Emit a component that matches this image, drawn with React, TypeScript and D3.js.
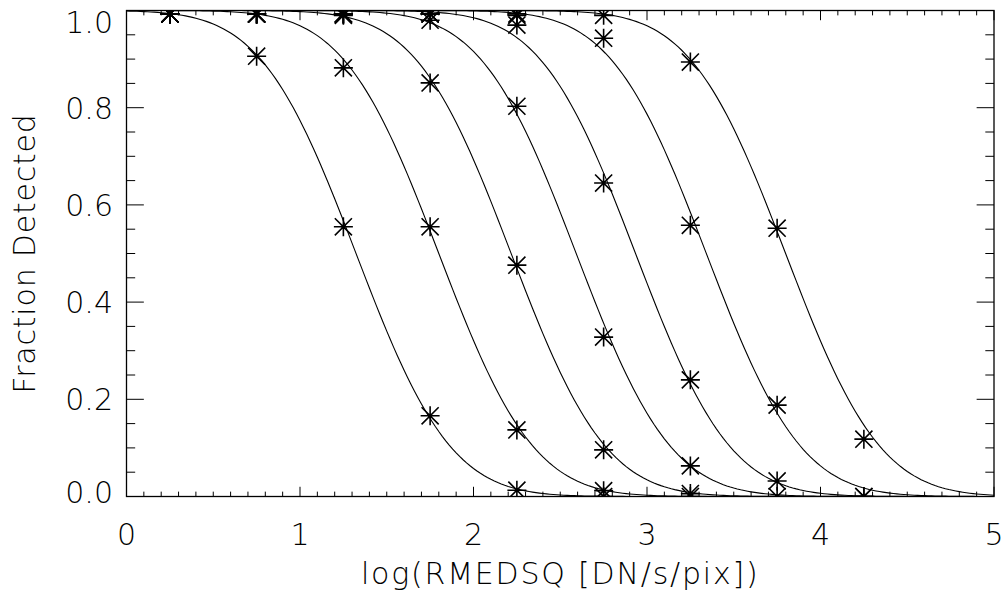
import React from "react";
import * as d3 from "d3";

// ---- data ----
const bins = [0.25, 0.75, 1.25, 1.75, 2.25, 2.75, 3.25, 3.75, 4.25];
const det1 = [0.993, 0.906, 0.555, 0.166, 0.013, 0.0];
const det2 = [0.993, 0.993, 0.882, 0.555, 0.137, 0.012, 0.0];
const det3 = [0.993, 0.993, 0.99, 0.851, 0.476, 0.096, 0.006];
const det4 = [0.993, 0.993, 0.993, 0.98, 0.803, 0.328, 0.063, 0.0];
const det5 = [0.993, 0.993, 0.993, 0.993, 0.97, 0.645, 0.24, 0.032, 0.0];
const det6 = [0.993, 0.993, 0.993, 0.993, 0.99, 0.943, 0.558, 0.188, 0.0];
const det7 = [0.993, 0.993, 0.993, 0.993, 0.993, 0.99, 0.894, 0.552, 0.118];
const series = [det1, det2, det3, det4, det5, det6, det7];

// fitted completeness curves: 50% point and gaussian width (log units)
const fitCenters = [1.323, 1.8, 2.217, 2.592, 2.934, 3.342, 3.799];
const fitWidths = [0.43, 0.43, 0.43, 0.43, 0.43, 0.43, 0.43];

const xTickValues = [0, 1, 2, 3, 4, 5];
const xTickLabels = ["0", "1", "2", "3", "4", "5"];
const yTickValues = [0, 0.2, 0.4, 0.6, 0.8, 1.0];
const yTickLabels = ["0.0", "0.2", "0.4", "0.6", "0.8", "1.0"];
const xTitle = "log(RMEDSQ [DN/s/pix])";
const yTitle = "Fraction Detected";

// ---- helpers ----
function erf(x: number) {
  const s = x < 0 ? -1 : 1;
  const a = Math.abs(x);
  const t = 1 / (1 + 0.3275911 * a);
  const y =
    1 -
    ((((1.061405429 * t - 1.453152027) * t + 1.421413741) * t - 0.284496736) * t +
      0.254829592) *
      t *
      Math.exp(-a * a);
  return s * y;
}
const model = (x: number, c: number, w: number) =>
  0.5 * (1 + erf((c - x) / (w * Math.SQRT2)));

const W = 1008;
const H = 599;
const L = 126.5;
const R = 994;
const T = 10.5;
const B = 496.5;
const FONT = "'DejaVu Sans', sans-serif";

export default function App() {
  const x = d3.scaleLinear().domain([0, 5]).range([L, R]);
  const y = d3.scaleLinear().domain([0, 1]).range([B, T]);
  const line = d3
    .line<number[]>()
    .x((d) => x(d[0]))
    .y((d) => y(d[1]));
  const grid = d3.range(0, 5.0001, 0.02);

  const xMinor = d3.range(0, 5.0001, 0.1);
  const yMinor = d3.range(0, 1.0001, 0.05);
  const xMajLen = 0.02 * (B - T);
  const yMajLen = 0.02 * (R - L);

  const starR = 9.5;
  const star = (cx: number, cy: number, key: string) => (
    <path
      key={key}
      d={`M${cx - starR},${cy}H${cx + starR}M${cx},${cy - starR}V${cy + starR}M${cx - starR * 0.9},${cy - starR * 0.9}L${cx + starR * 0.9},${cy + starR * 0.9}M${cx - starR * 0.9},${cy + starR * 0.9}L${cx + starR * 0.9},${cy - starR * 0.9}`}
      stroke="#000"
      strokeWidth={1.6}
      fill="none"
    />
  );

  return (
    <svg
      width={W}
      height={H}
      style={{ position: "absolute", left: 0, top: 0, background: "#fff" }}
      fontFamily={FONT}
    >
      <defs>
        <clipPath id="plotclip">
          <rect x={L} y={T} width={R - L} height={B - T} />
        </clipPath>
      </defs>
      <rect x={0} y={0} width={W} height={H} fill="#fff" />
      <g clipPath="url(#plotclip)">
        {fitCenters.map((c, i) => (
          <path
            key={"c" + i}
            d={line(grid.map((g) => [g, model(g, c, fitWidths[i])])) || ""}
            fill="none"
            stroke="#000"
            strokeWidth={1.1}
          />
        ))}
        {series.map((s, i) =>
          s.map((v, j) => star(x(bins[j]), y(v), `s${i}-${j}`))
        )}
      </g>
      {/* frame */}
      <rect x={L} y={T} width={R - L} height={B - T} fill="none" stroke="#000" strokeWidth={1.3} />
      {/* x ticks */}
      {xMinor.map((v, i) => {
        const major = Math.abs(v - Math.round(v)) < 1e-6;
        const len = major ? xMajLen : xMajLen / 2;
        return (
          <g key={"xt" + i}>
            <line x1={x(v)} x2={x(v)} y1={B} y2={B - len} stroke="#000" strokeWidth={1} />
            <line x1={x(v)} x2={x(v)} y1={T} y2={T + len} stroke="#000" strokeWidth={1} />
          </g>
        );
      })}
      {/* y ticks */}
      {yMinor.map((v, i) => {
        const major = Math.abs(v * 5 - Math.round(v * 5)) < 1e-6;
        const len = major ? yMajLen : yMajLen / 2;
        return (
          <g key={"yt" + i}>
            <line x1={L} x2={L + len} y1={y(v)} y2={y(v)} stroke="#000" strokeWidth={1} />
            <line x1={R} x2={R - len} y1={y(v)} y2={y(v)} stroke="#000" strokeWidth={1} />
          </g>
        );
      })}
      {/* x labels */}
      {xTickValues.map((v, i) => (
        <text
          key={"xl" + i}
          x={x(v)}
          y={545}
          textAnchor="middle"
          fontSize={30}
          fontWeight={200}
          fill="#000"
        >
          {xTickLabels[i]}
        </text>
      ))}
      {/* y labels */}
      {yTickValues.map((v, i) => {
        const cy = Math.min(Math.max(y(v), T + 11), B - 5);
        return (
          <text
            key={"yl" + i}
            x={113}
            y={cy + 11}
            textAnchor="end"
            fontSize={30}
            fontWeight={200}
            fill="#000"
          >
            {yTickLabels[i]}
          </text>
        );
      })}
      <text
        x={(L + R) / 2}
        y={584}
        textAnchor="middle"
        fontSize={30}
        fontWeight={200}
        letterSpacing={1.8}
        fill="#000"
      >
        {xTitle}
      </text>
      <text
        transform={`translate(35,${(T + B) / 2}) rotate(-90)`}
        textAnchor="middle"
        fontSize={30}
        fontWeight={200}
        letterSpacing={0.8}
        fill="#000"
      >
        {yTitle}
      </text>
    </svg>
  );
}
